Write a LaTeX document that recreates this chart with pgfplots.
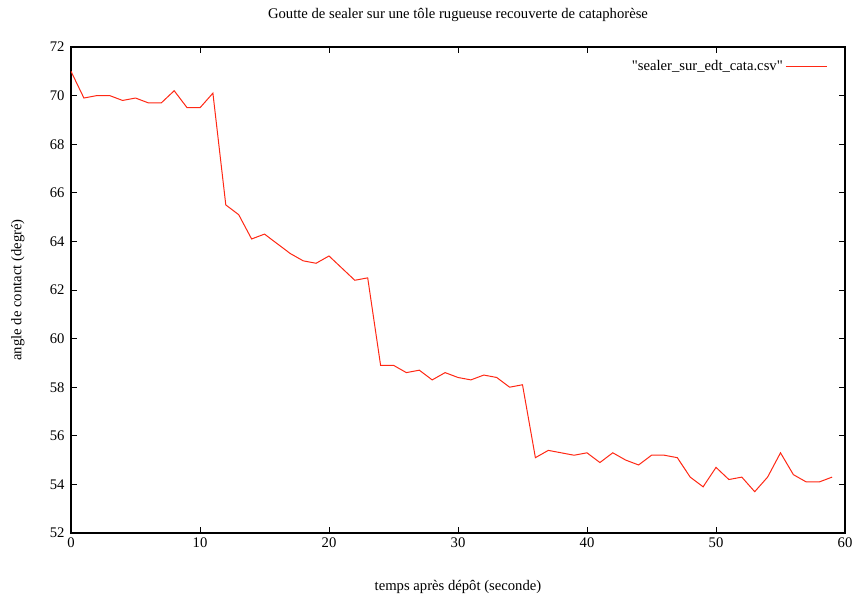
\documentclass[border=0pt]{standalone}
\usepackage{fontspec}
\setmainfont{Liberation Serif}[Ligatures=TeXOff]
\usepackage{pgfplots}
\pgfplotsset{compat=1.18}
\definecolor{gpred}{RGB}{255,40,20}
\begin{document}
\fontsize{11}{13}\selectfont
\begin{tikzpicture}
\begin{axis}[
  at={(0,0)}, anchor=south west,
  scale only axis, width=580.5pt, height=364.5pt,
  xmin=0, xmax=60, ymin=52, ymax=72,
  xtick={0,10,...,60}, ytick={52,54,...,72},
  tick align=inside, major tick length=4.5pt,
  tick style={black, line width=0.6pt},
  axis line style={black, line width=0.8pt},
  /pgf/number format/assume math mode=true,
  tick label style={font=\fontsize{11}{13}\selectfont},
  yticklabel style={xshift=-1pt},
  title={Goutte de sealer sur une tôle rugueuse recouverte de cataphorèse},
  title style={at={(axis description cs:0.5,1.0494)}, anchor=center, font=\fontsize{11}{13}\selectfont},
  xlabel={temps après dépôt (seconde)},
  xlabel style={at={(axis description cs:0.5,-0.111)}, anchor=center, font=\fontsize{11}{13}\selectfont},
  ylabel={angle de contact (degré)},
  ylabel style={at={(axis description cs:-0.0685,0.5)}, anchor=center, font=\fontsize{11}{13}\selectfont},
  legend plot pos=right,
  legend style={at={(axis description cs:1,1)}, anchor=north east, draw=none, fill=none, xshift=-10pt, yshift=-5.5pt, font=\fontsize{11}{13}\selectfont},
  legend cell align=right,
  legend image post style={xscale=1.8},
]
\addplot[gpred, line width=0.75pt, mark=none] coordinates {
(0,71.0) (1,69.9) (2,70.0) (3,70.0) (4,69.8) (5,69.9) (6,69.7) (7,69.7) (8,70.2) (9,69.5)
(10,69.5) (11,70.1) (12,65.5) (13,65.1) (14,64.1) (15,64.3) (16,63.9) (17,63.5) (18,63.2) (19,63.1)
(20,63.4) (21,62.9) (22,62.4) (23,62.5) (24,58.9) (25,58.9) (26,58.6) (27,58.7) (28,58.3) (29,58.6)
(30,58.4) (31,58.3) (32,58.5) (33,58.4) (34,58.0) (35,58.1) (36,55.1) (37,55.4) (38,55.3) (39,55.2)
(40,55.3) (41,54.9) (42,55.3) (43,55.0) (44,54.8) (45,55.2) (46,55.2) (47,55.1) (48,54.3) (49,53.9)
(50,54.7) (51,54.2) (52,54.3) (53,53.7) (54,54.3) (55,55.3) (56,54.4) (57,54.1) (58,54.1) (59,54.3)
};
\addlegendentry{"sealer\_sur\_edt\_cata.csv"}
\end{axis}
\pgfresetboundingbox
\path[use as bounding box] (-53.25pt,-50.25pt) rectangle (587.25pt,399.75pt);
\end{tikzpicture}
\end{document}
